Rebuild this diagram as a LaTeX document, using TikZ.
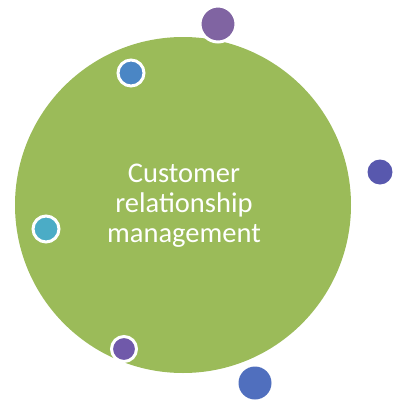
\documentclass[tikz,border=0pt]{standalone}
\usepackage{fontspec}
\setmainfont{Carlito}
\definecolor{cgreen}{HTML}{9BBB59}
\definecolor{cpurple}{HTML}{8064A2}
\definecolor{cblue}{HTML}{4A86C5}
\definecolor{ccyan}{HTML}{4BACC6}
\definecolor{cviolet}{HTML}{7059AA}
\definecolor{cindigo}{HTML}{5858AE}
\definecolor{croyal}{HTML}{506FBE}
\tikzset{
  dotring/.style={circle, draw=white, line width=3pt, inner sep=0pt},
  dotplain/.style={circle, inner sep=0pt},
}
\begin{document}
\begin{tikzpicture}[x=1pt,y=-1pt]
\useasboundingbox (0,0) rectangle (400,400);
\node[circle, fill=cgreen, minimum size=336pt, inner sep=0pt] (main) at (183,205) {};
\node[text=white, font=\fontsize{28.5}{30}\selectfont, align=center] (label) at (184,206) {Customer\\relationship\\management};
\node[dotring, fill=cpurple, minimum size=36pt] (d1) at (218,24) {};
\node[dotring, fill=cblue, minimum size=26pt] (d2) at (131,73) {};
\node[dotplain, fill=cindigo, minimum size=25pt] (d3) at (380,172) {};
\node[dotring, fill=ccyan, minimum size=26pt] (d4) at (46,229) {};
\node[dotring, fill=cviolet, minimum size=25pt] (d5) at (124,349) {};
\node[dotplain, fill=croyal, minimum size=33pt] (d6) at (255,383) {};
\end{tikzpicture}
\end{document}
